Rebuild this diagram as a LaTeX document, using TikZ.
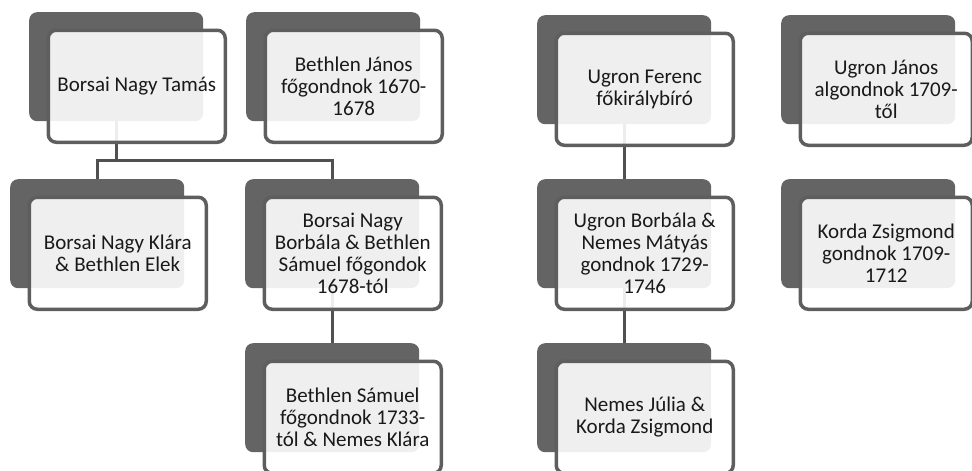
\documentclass[tikz,border=0pt]{standalone}
\usepackage{fontspec}
\setmainfont{Carlito}
\definecolor{backgray}{HTML}{646464}
\definecolor{edgegray}{HTML}{5E5E5E}
\definecolor{linegray}{HTML}{505050}
\tikzset{
  x=1pt, y=-1pt,
  backbox/.style={draw=none, fill=backgray, rounded corners=8pt, inner sep=0pt,
    minimum width=174pt, minimum height=109pt, anchor=north west},
  frontbox/.style={draw=edgegray, line width=3.5pt, fill=white, fill opacity=0.9, text opacity=1,
    rounded corners=8pt, inner sep=0pt, minimum width=177pt, minimum height=112pt,
    anchor=north west, align=center, text=black!90,
    font=\fontsize{21}{22}\selectfont},
  conn/.style={draw=linegray, line width=3pt},
}
\begin{document}
\begin{tikzpicture}
\useasboundingbox (0,0) rectangle (972,471);
% back boxes
\node[backbox] (t1b) at (29,12) {};
\node[backbox] (t2b) at (246,12) {};
\node[backbox] (t3b) at (10,179) {};
\node[backbox] (t4b) at (245,179) {};
\node[backbox] (t5b) at (245,343) {};
\node[backbox] (t6b) at (537,15) {};
\node[backbox] (t7b) at (781,15) {};
\node[backbox] (t8b) at (537,179) {};
\node[backbox] (t9b) at (537,343) {};
\node[backbox] (t10b) at (781,179) {};
% connectors
\draw[conn] (t1b.south) -- (t1b.south |- 0,160);
\draw[conn] (t3b.north) |- (t4b.north |- 0,160) -- (t4b.north);
\draw[conn] (t4b.south) -- (t5b.north);
\draw[conn] (t6b.south) -- (t8b.north);
\draw[conn] (t8b.south) -- (t9b.north);
% front boxes
\node[frontbox] (t1) at ([shift={(17.5,16.5)}]t1b.north west) {Borsai Nagy Tamás};
\node[frontbox] (t2) at ([shift={(17.5,16.5)}]t2b.north west) {Bethlen János\\főgondnok 1670-\\1678};
\node[frontbox] (t3) at ([shift={(17.5,16.5)}]t3b.north west) {Borsai Nagy Klára\\\& Bethlen Elek};
\node[frontbox] (t4) at ([shift={(17.5,16.5)}]t4b.north west) {Borsai Nagy\\Borbála \& Bethlen\\Sámuel főgondok\\1678-tól};
\node[frontbox] (t5) at ([shift={(17.5,16.5)}]t5b.north west) {Bethlen Sámuel\\főgondnok 1733-\\tól \& Nemes Klára};
\node[frontbox] (t6) at ([shift={(17.5,16.5)}]t6b.north west) {Ugron Ferenc\\főkirálybíró};
\node[frontbox, minimum width=172pt] (t7) at ([shift={(17.5,16.5)}]t7b.north west) {Ugron János\\algondnok 1709-\\től};
\node[frontbox] (t8) at ([shift={(17.5,16.5)}]t8b.north west) {Ugron Borbála \&\\Nemes Mátyás\\gondnok 1729-\\1746};
\node[frontbox] (t9) at ([shift={(17.5,16.5)}]t9b.north west) {Nemes Júlia \&\\Korda Zsigmond};
\node[frontbox, minimum width=172pt] (t10) at ([shift={(17.5,16.5)}]t10b.north west) {Korda Zsigmond\\gondnok 1709-\\1712};
\end{tikzpicture}
\end{document}
